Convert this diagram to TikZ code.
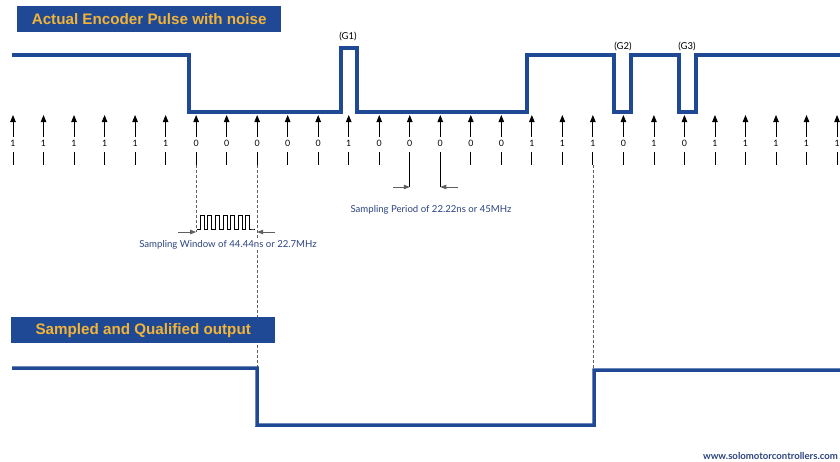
\documentclass[tikz,border=0pt]{standalone}
\usepackage{fontspec}
\setmainfont{Lato}
\newfontfamily\bannerfont{Liberation Sans}
\usetikzlibrary{arrows.meta}
\definecolor{solo-blue}{RGB}{31,73,148}
\definecolor{solo-gold}{RGB}{242,180,56}
\definecolor{solo-text}{RGB}{44,68,128}
\definecolor{solo-grey}{RGB}{95,95,95}

\begin{document}
\begin{tikzpicture}[x=1pt,y=-1pt,
          banner/.style={
            fill=solo-blue, text=solo-gold, anchor=north west,
            minimum width=264pt, minimum height=26pt, inner sep=0pt,
            font=\bannerfont\bfseries\fontsize{15.2}{17}\selectfont},
          signal/.style={solo-blue, line width=3.5pt},
          tick/.style={-{Triangle[length=7pt,width=5.5pt]}, line width=0.8pt},
          bit/.style={inner sep=0pt, text height=6.5pt, text depth=0pt,
            font=\fontsize{8.8}{10}\selectfont},
          glabel/.style={inner sep=0pt, font=\fontsize{9.5}{11}\selectfont},
          guide/.style={solo-grey, dash pattern=on 3pt off 2pt, line width=0.6pt},
          measure/.style={-{Triangle[length=6pt,width=4.5pt]}, solo-grey, line width=0.8pt},
          note/.style={inner sep=1pt, fill=white, text=solo-text, font=\fontsize{9.6}{11}\selectfont}
        ]
        \useasboundingbox (0,0) rectangle (840,461);
        % noisy encoder pulse
        \node[banner] (title1) at (17,6) {Actual Encoder Pulse with noise};
        \draw[signal] (12,55) -- (189,55) -- (189,112) -- (341,112) -- (341,48)
          -- (357,48) -- (357,112) -- (527,112) -- (527,55) -- (614,55)
          -- (614,112) -- (631,112) -- (631,55) -- (679,55) -- (679,112)
          -- (696,112) -- (696,55) -- (840,55);
        \node[glabel] (g1) at (348,37) {(G1)};
        \node[glabel] (g2) at (623,47) {(G2)};
        \node[glabel] (g3) at (687,47) {(G3)};
        % sampling instants
        \foreach \b [count=\i from 0] in {1,1,1,1,1,1,0,0,0,0,0,1,0,0,0,0,0,1,1,1,0,1,0,1,1,1,1,1} {
          \node[bit] (b\i) at ({13+\i*30.52},143) {\b};
          \coordinate (t\i) at ({13+\i*30.52},115);
          \coordinate (l\i) at ({13+\i*30.52},165);
          \draw[tick, shorten <=3pt] (b\i.north) -- (t\i);
          \draw[line width=0.8pt, shorten <=6pt] (b\i.south) -- (l\i);
        }
        % sampling period
        \coordinate (p1) at (l13 |- 0,187);
        \coordinate (p2) at (l14 |- 0,187);
        \coordinate (pa) at (393,187);
        \coordinate (pb) at (458,187);
        \draw[line width=0.8pt] (l13) -- (p1);
        \draw[line width=0.8pt] (l14) -- (p2);
        \draw[measure] (pa) -- (p1);
        \draw[measure] (pb) -- (p2);
        \node[note] (period) at (431,210) {Sampling Period of 22.22ns or 45MHz};
        % sampling window
        \coordinate (w1) at (l6 |- 0,232);
        \coordinate (w2) at (l8 |- 0,232);
        \coordinate (wa) at (178,232);
        \coordinate (wb) at (275,232);
        \coordinate (q1) at (l8 |- 0,368);
        \coordinate (q2) at (l19 |- 0,370);
        \draw[guide] (l6) -- (w1);
        \draw[guide] (l8) -- (q1);
        \draw[guide] (l19) -- (q2);
        \draw[line width=0.6pt] (197,229) -- (200,229)
          \foreach \k in {0,...,6} { -- ++(0,-14) -- ++(4,0) -- ++(0,14) -- ++(3.6,0) }
          -- (255,229);
        \draw[measure] (wa) -- (w1);
        \draw[measure] (wb) -- (w2);
        \node[note] (window) at (228,245) {Sampling Window of 44.44ns or 22.7MHz};
        % qualified output
        \node[banner] (title2) at (11,317) {Sampled and Qualified output};
        \draw[signal] (12,368) -- (q1) -- (257,425) -- (594,425) -- (594,370) -- (840,370);
        \node[note, anchor=east, font=\bfseries\fontsize{9.6}{11}\selectfont] (url) at (839,456)
          {www.solomotorcontrollers.com};
      \end{tikzpicture}
\end{document}
